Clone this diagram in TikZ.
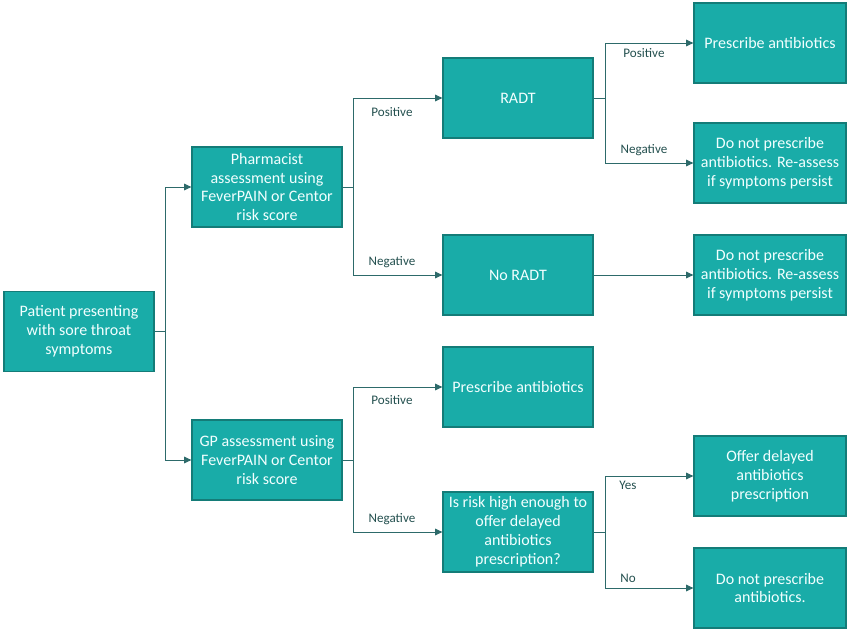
\documentclass[tikz,border=0pt]{standalone}
\usepackage{fontspec}
\setmainfont{Carlito}
\usetikzlibrary{arrows.meta}
\definecolor{boxfill}{HTML}{19ACA8}
\definecolor{boxdraw}{HTML}{147C78}
\definecolor{boxtext}{HTML}{F2FFFF}
\definecolor{linec}{HTML}{2D6A6A}
\definecolor{labc}{HTML}{24504F}
\tikzset{
  box/.style={draw=boxdraw, line width=0.9pt, fill=boxfill, text=boxtext,
    minimum width=112.5pt, minimum height=60pt, inner sep=0pt, align=center,
    font=\fontsize{12}{14.2}\selectfont},
  conn/.style={draw=linec, line width=0.75pt},
  arr/.style={conn, -{Triangle[length=5.5pt,width=5pt]}},
  lab/.style={text=labc, font=\fontsize{9.8}{11}\selectfont, inner sep=0pt}
}
\begin{document}
\begin{tikzpicture}[x=0.75pt,y=-0.75pt]
\useasboundingbox (0,0) rectangle (850,629);
% boxes
\node[box] (patient) at (79,331.5) {Patient presenting\\with sore throat\\symptoms};
\node[box] (pharm) at (267,187) {Pharmacist\\assessment using\\FeverPAIN or Centor\\risk score};
\node[box] (gp) at (267,460) {GP assessment using\\FeverPAIN or Centor\\risk score};
\node[box] (radt) at (518,98) {RADT};
\node[box] (noradt) at (518,275) {No RADT};
\node[box] (presc2) at (518,387) {Prescribe antibiotics};
\node[box] (risk) at (518,532) {Is risk high enough to\\offer delayed\\antibiotics\\prescription?};
\node[box, minimum width=114pt] (presc1) at (770,43) {Prescribe antibiotics};
\node[box, minimum width=114pt] (dnp1) at (770,163) {Do not prescribe\\antibiotics. Re-assess\\if symptoms persist};
\node[box, minimum width=114pt] (dnp2) at (770,275) {Do not prescribe\\antibiotics. Re-assess\\if symptoms persist};
\node[box, minimum width=114pt] (offer) at (770,476) {Offer delayed\\antibiotics\\prescription};
\node[box, minimum width=114pt] (dnp3) at (770,588) {Do not prescribe\\antibiotics.};
% junction coordinates
\coordinate (j1) at (165,331.5);
\coordinate (j2) at (353,187);
\coordinate (j3) at (605,98);
\coordinate (j4) at (353,460);
\coordinate (j5) at (605,532);
% connectors
\draw[conn] (patient.east) -- (j1);
\draw[arr] (j1) |- (pharm.west);
\draw[arr] (j1) |- (gp.west);
\draw[conn] (pharm.east) -- (j2);
\draw[arr] (j2) |- (radt.west);
\draw[arr] (j2) |- (noradt.west);
\draw[conn] (radt.east) -- (j3);
\draw[arr] (j3) |- (presc1.west);
\draw[arr] (j3) |- (dnp1.west);
\draw[arr] (noradt.east) -- (dnp2.west);
\draw[conn] (gp.east) -- (j4);
\draw[arr] (j4) |- (presc2.west);
\draw[arr] (j4) |- (risk.west);
\draw[conn] (risk.east) -- (j5);
\draw[arr] (j5) |- (offer.west);
\draw[arr] (j5) |- (dnp3.west);
% labels
\node[lab] (l1) at (392,112) {Positive};
\node[lab] (l2) at (392,262) {Negative};
\node[lab] (l3) at (644,53) {Positive};
\node[lab] (l4) at (644,150) {Negative};
\node[lab] (l5) at (392,400) {Positive};
\node[lab] (l6) at (392,519) {Negative};
\node[lab] (l7) at (628,485) {Yes};
\node[lab] (l8) at (628,578) {No};
\end{tikzpicture}
\end{document}
